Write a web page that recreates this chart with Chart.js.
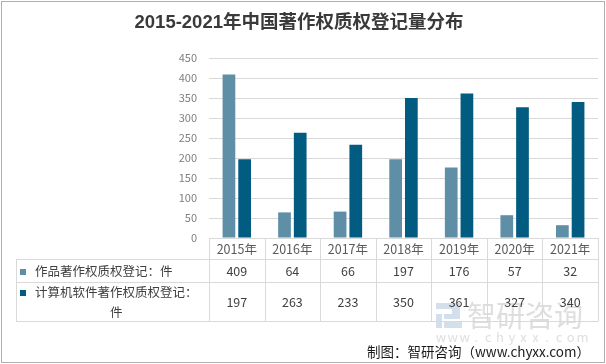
<!DOCTYPE html>
<html><head><meta charset="utf-8">
<script src="https://cdn.jsdelivr.net/npm/chart.js@4/dist/chart.umd.min.js"></script>
<style>html,body{margin:0;padding:0;background:#fff;}canvas{display:block;}</style>
</head><body>
<canvas id="c" width="606" height="364"></canvas>
<script>
const titleText = '2015-2021年中国著作权质权登记量分布';
const categories = ['2015年','2016年','2017年','2018年','2019年','2020年','2021年'];
const seriesNames = ['作品著作权质权登记：件','计算机软件著作权质权登记：件'];
const worksValues = [409, 64, 66, 197, 176, 57, 32];
const softwareValues = [197, 263, 233, 350, 361, 327, 340];
const yMax = 450, yStep = 50;
const sourceText = '制图：智研咨询（www.chyxx.com）';
const watermarkText = '智研咨询';
const watermarkUrl = 'www.chyxx.com';

const colors = ['#5f8fa7', '#025b81'];
const CJK = "'Noto Sans CJK SC','Noto Sans',sans-serif";

function line(ctx, x1, y1, x2, y2){ctx.beginPath();ctx.moveTo(x1,y1);ctx.lineTo(x2,y2);ctx.stroke();}

function wrapChars(ctx, text, maxW){
  const lines=[];let cur='';
  for(const ch of text){
    if(ctx.measureText(cur+ch).width>maxW && cur){lines.push(cur);cur=ch;}else cur+=ch;
  }
  if(cur) lines.push(cur);
  return lines;
}

const tablePlugin = {
  id:'dataTable',
  afterDraw(chart){
    const ctx=chart.ctx, xs=chart.scales.x, area=chart.chartArea;
    const n=categories.length;
    const cw=(area.right-area.left)/n;
    const top=Math.round(area.bottom), r1=top+21, r2=r1+23, bot=r2+39;
    const leftX=16;
    ctx.save();
    // watermark (behind table text)
    ctx.fillStyle='#d3e0eb';
    ctx.fillRect(436,303,24,6);
    ctx.fillRect(452,303,8,14);
    ctx.fillRect(444,314,16,5);
    ctx.fillRect(436,314,6,14);
    ctx.fillRect(444,322,18,6);
    ctx.fillStyle='rgba(200,200,200,0.6)';
    ctx.textAlign='left';ctx.textBaseline='middle';
    ctx.font="29px "+CJK;
    ctx.fillText(watermarkText,467,316);
    ctx.font="13px "+CJK;
    [...watermarkUrl].forEach((ch,i)=>{ctx.textAlign='center';ctx.fillText(ch,441+i*11.8,337);});

    ctx.strokeStyle='#d9d9d9';ctx.lineWidth=1;
    for(let i=0;i<=n;i++){
      const p = i<n ? Math.round(xs.getPixelForValue(i)-cw/2)+0.5 : Math.round(xs.getPixelForValue(n-1)+cw/2)+0.5;
      line(ctx,p,top,p,bot+0.5);
    }
    line(ctx,leftX+0.5,r1,leftX+0.5,bot+0.5);
    [r1,r2,bot].forEach(y=>line(ctx,leftX,y+0.5,area.right,y+0.5));
    // header
    ctx.fillStyle='#595959';ctx.textAlign='center';ctx.textBaseline='middle';
    ctx.font="12.5px "+CJK;
    categories.forEach((c,i)=>ctx.fillText(c,xs.getPixelForValue(i),(top+r1)/2+0.5));
    // rows
    const rows=[[worksValues,r1,r2],[softwareValues,r2,bot]];
    rows.forEach(([vals,a,b],k)=>{
      ctx.fillStyle='#404040';ctx.textAlign='center';
      vals.forEach((v,i)=>ctx.fillText(String(v),xs.getPixelForValue(i),(a+b)/2+1));
      const lines=wrapChars(ctx,seriesNames[k],area.left-35-6);
      const lh=20;
      const y0=(a+b)/2-(lines.length-1)*lh/2+1;
      const w0=ctx.measureText(lines[0]).width;
      lines.forEach((ln,j)=>{
        if(j===0){ctx.textAlign='left';ctx.fillText(ln,35,y0);}
        else{ctx.textAlign='center';ctx.fillText(ln,35+w0/2,y0+j*lh);}
      });
      ctx.fillStyle=colors[k];
      ctx.fillRect(20,Math.round(y0)-3,6,6);
    });
    // source
    ctx.fillStyle='#1a1a1a';ctx.textAlign='right';ctx.font="13.5px "+CJK;
    ctx.fillText(sourceText,590,352);
    // border
    ctx.strokeStyle='#b0b0b0';ctx.strokeRect(1.5,1.5,603,361);
    ctx.restore();
  }
};

new Chart(document.getElementById('c'),{
  type:'bar',
  data:{labels:categories,datasets:[
    {label:seriesNames[0],data:worksValues,backgroundColor:colors[0],categoryPercentage:0.565,barPercentage:0.81},
    {label:seriesNames[1],data:softwareValues,backgroundColor:colors[1],categoryPercentage:0.565,barPercentage:0.81}
  ]},
  options:{
    responsive:false,animation:false,
    layout:{padding:{left:0,right:8,top:0,bottom:126}},
    plugins:{
      legend:{display:false},tooltip:{enabled:false},
      title:{display:true,text:titleText,color:'#3a3a3a',
        font:{family:"'Liberation Sans','Noto Sans CJK SC',sans-serif",size:18.5,weight:'bold'},
        padding:{top:11.5,bottom:24.3}}
    },
    scales:{
      x:{display:false},
      y:{min:0,max:yMax,
        afterFit(s){s.width=209;},
        border:{display:false},
        grid:{color:'#d9d9d9',drawTicks:false},
        ticks:{stepSize:yStep,padding:12,color:'#7f7f7f',font:{family:CJK,size:11}}}
    }
  },
  plugins:[tablePlugin]
});
</script>
</body></html>
